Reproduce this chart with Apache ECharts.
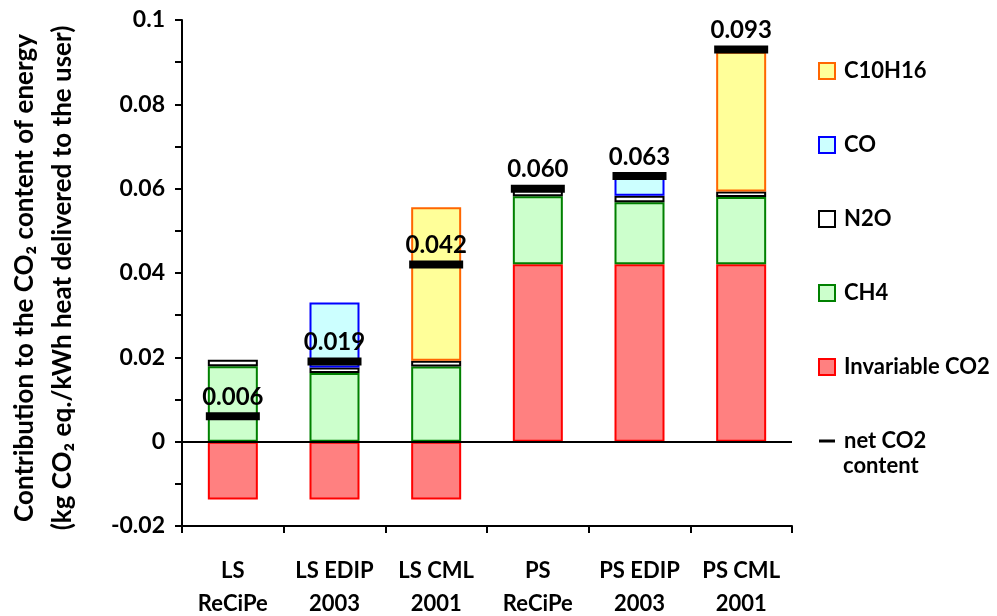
<!DOCTYPE html>
<html>
<head>
<meta charset="utf-8">
<script src="https://cdn.jsdelivr.net/npm/echarts@6/dist/echarts.min.js"></script>
<style>html,body{margin:0;padding:0;background:#fff}#c{width:997px;height:616px}</style>
</head>
<body>
<div id="c"></div>
<script>
var categories = ['LS\nReCiPe', 'LS EDIP\n2003', 'LS CML\n2001', 'PS\nReCiPe', 'PS EDIP\n2003', 'PS CML\n2001'];
var invariableCO2 = [-0.0137, -0.0137, -0.0137, 0.0421, 0.0421, 0.0421];
var ch4 = [0.0179, 0.0163, 0.0178, 0.0161, 0.0147, 0.0159];
var n2o = [0.0015, 0.0013, 0.0014, 0.0016, 0.0015, 0.0013];
var co = [0, 0.0154, 0, 0, 0.0047, 0];
var c10h16 = [0, 0, 0.0364, 0, 0, 0.0332];
var netCO2 = [0.006, 0.019, 0.042, 0.060, 0.063, 0.093];
var yTicks = {min: -0.02, max: 0.1, interval: 0.02};

var FONT = 'Lato, "Noto Sans", sans-serif';
var chart = echarts.init(document.getElementById('c'), null, {renderer: 'canvas'});

function barSeries(name, data, fill, border) {
  return {
    name: name, type: 'bar', stack: 'total', barWidth: 50,
    data: data.map(function (v) { return v === 0 ? '-' : v; }),
    itemStyle: {color: fill, borderColor: border, borderWidth: 2},
    emphasis: {disabled: true}
  };
}

var s1 = barSeries('Invariable CO2', invariableCO2, '#FF8080', '#FF0000');
s1.markLine = {
  silent: true, symbol: ['none', 'none'], label: {show: false},
  lineStyle: {color: '#000', width: 2, type: 'solid'},
  data: [{yAxis: 0}]
};

var option = {
  animation: false,
  backgroundColor: '#fff',
  textStyle: {fontFamily: FONT},
  grid: {left: 182, right: 205, top: 20, bottom: 90, containLabel: false, outerBoundsMode: 'none'},
  legend: {
    orient: 'vertical', left: 813, top: 55, itemGap: 52,
    itemWidth: 16, itemHeight: 16,
    textStyle: {fontFamily: FONT, fontWeight: 'bold', fontSize: 22, lineHeight: 22, color: '#000', padding: [0, 0, 0, 4]},
    formatter: function (n) { return n === 'net CO2 content' ? 'net CO2' : n; },
    data: [
      {name: 'C10H16', icon: 'rect'},
      {name: 'CO', icon: 'rect'},
      {name: 'N2O', icon: 'rect'},
      {name: 'CH4', icon: 'rect'},
      {name: 'Invariable CO2', icon: 'rect'},
      {name: 'net CO2 content', icon: 'path://M0,0H16V3H0Z', itemStyle: {color: '#000', borderWidth: 0, opacity: 1}}
    ],
    selectedMode: false
  },
  graphic: [
    {type: 'text', left: 843, top: 455, style: {text: 'content', font: 'bold 22px ' + FONT, fill: '#000'}},
    {type: 'text', x: 6, y: 278, rotation: Math.PI / 2,
     style: {text: 'Contribution to the CO\u2082 content of energy\n(kg CO\u2082 eq./kWh heat delivered to the user)',
             font: 'bold 26px ' + FONT, fill: '#000', align: 'center', verticalAlign: 'top', lineHeight: 38}}
  ],
  xAxis: {
    type: 'category', data: categories,
    axisLine: {onZero: false, lineStyle: {color: '#000', width: 2}},
    axisTick: {show: true, alignWithLabel: false, length: 7, lineStyle: {color: '#000', width: 2}},
    axisLabel: {fontFamily: FONT, fontWeight: 'bold', fontSize: 22, color: '#000', margin: 28, lineHeight: 33, interval: 0}
  },
  yAxis: {
    type: 'value', min: yTicks.min, max: yTicks.max, interval: yTicks.interval,
    axisLine: {show: true, lineStyle: {color: '#000', width: 2}},
    axisTick: {show: true, length: 7, lineStyle: {color: '#000', width: 2}},
    minorTick: {show: true, splitNumber: 2, length: 7, lineStyle: {color: '#000', width: 2}},
    splitLine: {show: false},
    axisLabel: {fontFamily: FONT, fontWeight: 'bold', fontSize: 23, color: '#000', margin: 17,
      formatter: function (v) { return String(parseFloat(v.toFixed(3))); }}
  },
  series: [
    s1,
    barSeries('CH4', ch4, '#CCFFCC', '#008000'),
    barSeries('N2O', n2o, '#FFFFFF', '#000000'),
    barSeries('CO', co, '#CCFFFF', '#0000FF'),
    barSeries('C10H16', c10h16, '#FFFF99', '#FF6600'),
    {
      name: 'net CO2 content', type: 'scatter', data: netCO2, z: 5,
      symbol: 'rect', symbolSize: [54, 8],
      itemStyle: {color: '#000', opacity: 1},
      label: {show: true, position: 'top', distance: 3, fontFamily: FONT, fontWeight: 'bold', fontSize: 24, color: '#000',
        formatter: function (p) { return p.value.toFixed(3); }},
      emphasis: {disabled: true}
    }
  ]
};
chart.setOption(option);
</script>
</body>
</html>
